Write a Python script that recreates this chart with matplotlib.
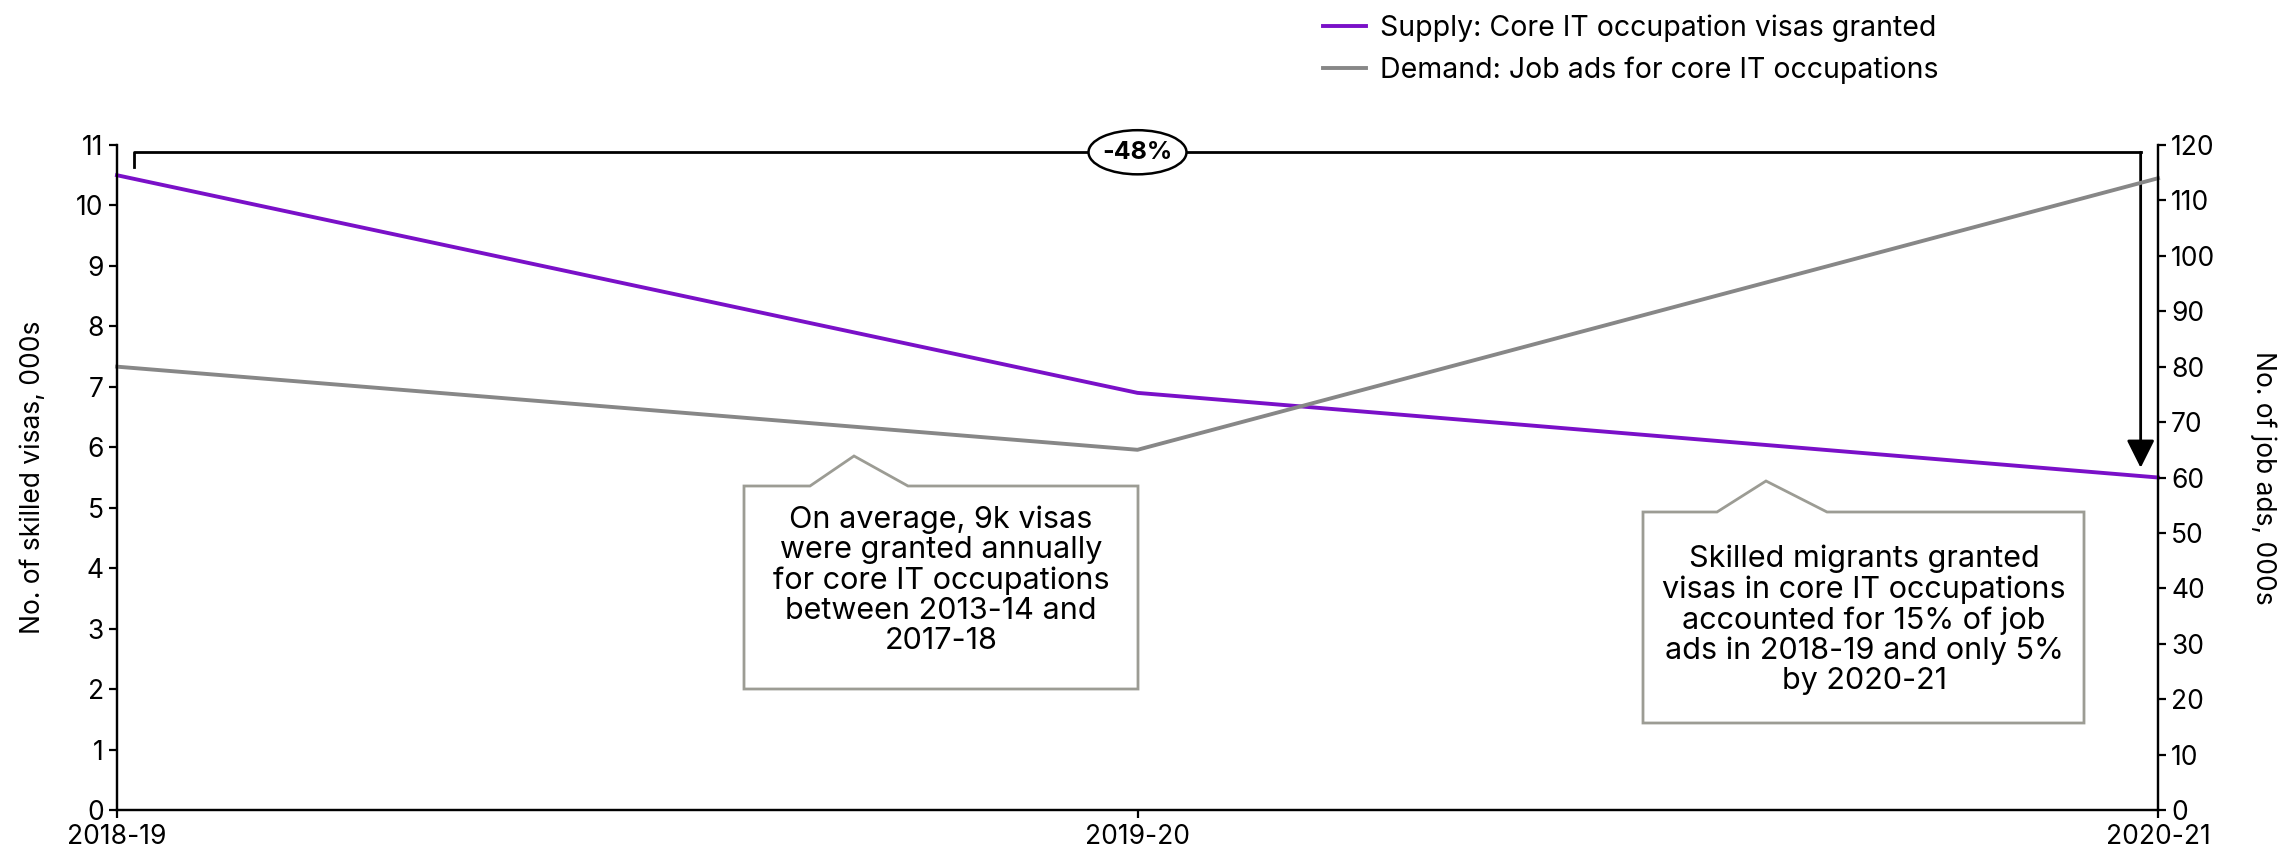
import matplotlib
matplotlib.use("Agg")
import matplotlib.pyplot as plt
from matplotlib.patches import Polygon, Ellipse
from matplotlib.lines import Line2D

plt.rcParams.update(
    {
        "font.family": ["Inter", "DejaVu Sans"],
        "font.size": 19,
        "axes.linewidth": 1.6,
        "xtick.major.width": 1.6,
        "ytick.major.width": 1.6,
        "xtick.major.size": 6,
        "ytick.major.size": 6,
    }
)

years = ["2018-19", "2019-20", "2020-21"]
visas_000s = [10.5, 6.9, 5.5]
job_ads_000s = [80, 65, 114]
change_label = "-48%"

PURPLE = "#7a10c8"
GREY = "#878787"
BOX = "#9c9c94"

W, H = 2285, 857
fig = plt.figure(figsize=(W / 100, H / 100), dpi=100)


def px(x, y):
    # pixel position -> figure fraction
    return x / W, 1 - y / H


ax = fig.add_axes([117 / W, 1 - 810 / H, (2158 - 117) / W, (810 - 145) / H])
ax2 = ax.twinx()

x = list(range(len(years)))
ax.plot(x, visas_000s, color=PURPLE, lw=2.8, zorder=3, clip_on=False)
ax2.plot(x, job_ads_000s, color=GREY, lw=2.8, zorder=2, clip_on=False)

ax.set_xlim(0, 2)
ax.set_ylim(0, 11)
ax.set_yticks(range(0, 12))
ax2.set_ylim(0, 120)
ax2.set_yticks(range(0, 121, 10))
ax.set_xticks(x)
ax.set_xticklabels(years)
ax.tick_params(axis="x", pad=4)

for a in (ax, ax2):
    a.spines["top"].set_visible(False)
ax.set_ylabel("No. of skilled visas, 000s", fontsize=19, labelpad=22)
ax2.set_ylabel("No. of job ads, 000s", fontsize=19, rotation=270, labelpad=44)

# bracket with percentage change
yb = 10.88
ax.plot([0.017, 0.017, 1.983], [10.64, yb, yb], color="black", lw=2, clip_on=False, zorder=4)
ax.annotate(
    "", xy=(1.983, visas_000s[-1] + 0.16), xytext=(1.983, yb),
    arrowprops=dict(arrowstyle="-|>,head_width=0.45,head_length=0.9", color="black", lw=2,
                    shrinkA=0, shrinkB=0),
    zorder=4,
)
ax.add_patch(Ellipse((1, yb), 0.096, 0.73, facecolor="white", edgecolor="black", lw=1.8, zorder=5,
                     clip_on=False))
ax.text(1, yb, change_label, ha="center", va="center", fontweight="bold", fontsize=18, zorder=6)


def callout(left, right, top, bottom, base_l, base_r, peak, text, cx, cy):
    pts = [(left, top), (base_l, top), peak, (base_r, top), (right, top), (right, bottom), (left, bottom)]
    fig.patches.append(Polygon([px(*p) for p in pts], closed=True, transform=fig.transFigure,
                               facecolor="white", edgecolor=BOX, lw=2, zorder=5))
    fig.text(*px(cx, cy), text, ha="center", va="center", fontsize=22, linespacing=1.1, zorder=6)


callout(744, 1138, 486, 689, 810, 908, (854, 456),
        "On average, 9k visas\nwere granted annually\nfor core IT occupations\nbetween 2013-14 and\n2017-18",
        941, 580)
callout(1643, 2084, 512, 723, 1717, 1827, (1766, 481),
        "Skilled migrants granted\nvisas in core IT occupations\naccounted for 15% of job\nads in 2018-19 and only 5%\nby 2020-21",
        1864, 620)

handles = [
    Line2D([], [], color=PURPLE, lw=2.8),
    Line2D([], [], color=GREY, lw=2.8),
]
fig.legend(
    handles,
    ["Supply: Core IT occupation visas granted", "Demand: Job ads for core IT occupations"],
    loc="upper left", bbox_to_anchor=px(1312, 3), frameon=False, fontsize=20.5,
    handlelength=1.5, handletextpad=0.5, labelspacing=0.5, borderaxespad=0,
)

fig.savefig("out.png", dpi=100)
